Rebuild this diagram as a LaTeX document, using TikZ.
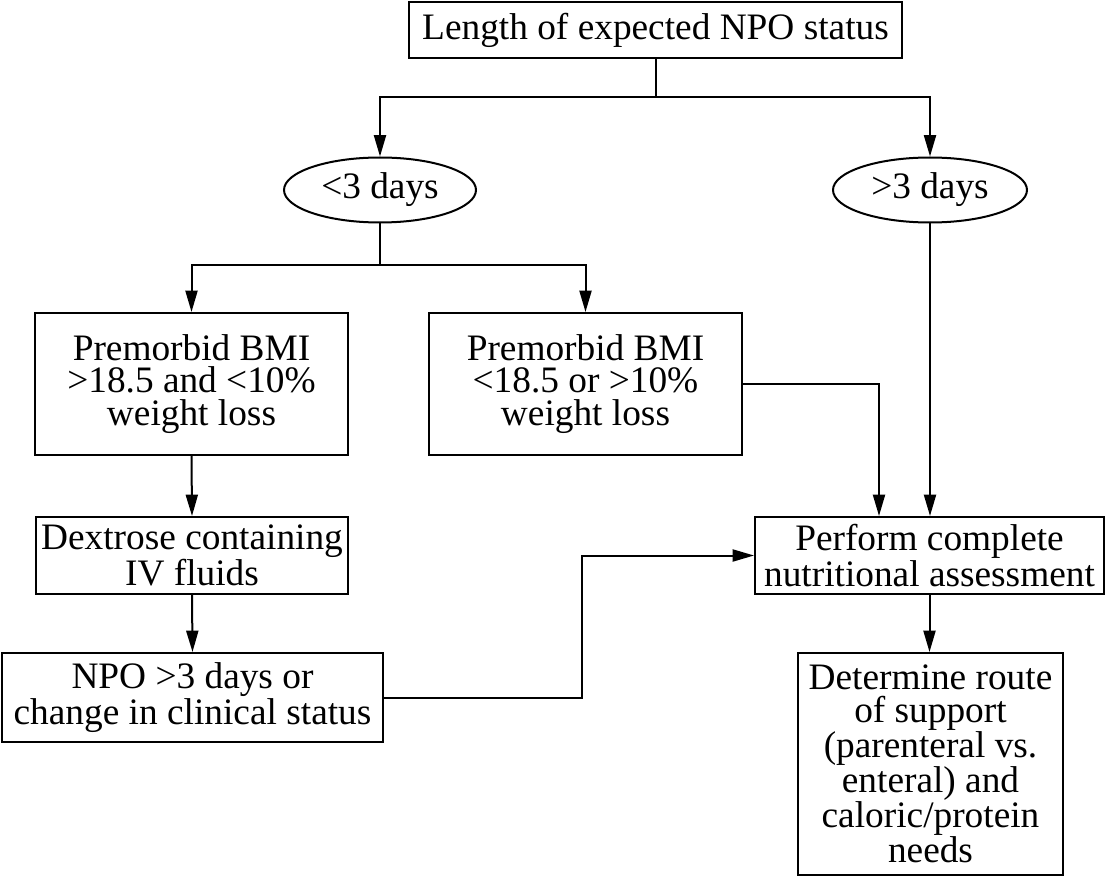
\documentclass[tikz,border=0pt]{standalone}
\usepackage{fontspec}
\setmainfont{Liberation Serif}
\usetikzlibrary{arrows.meta,shapes.geometric}
\begin{document}
\begin{tikzpicture}[x=0.75pt,y=-0.75pt,
  every node/.style={font=\fontsize{28}{24.5}\selectfont, align=center, inner sep=0pt, line width=1.5pt},
  box/.style={draw, rectangle},
  oval/.style={draw, ellipse},
  conn/.style={line width=1.5pt},
  arr/.style={conn, -{Triangle[length=16pt,width=9pt]}}]
\useasboundingbox (0,0) rectangle (1106,877);
\node[box, minimum width=369.75pt, minimum height=42pt] (top) at (655.5,30) {Length of expected NPO status};
\node[oval, minimum width=144pt, minimum height=48.75pt] (e1) at (380,190) {<3 days};
\node[oval, minimum width=145.5pt, minimum height=48.75pt] (e2) at (930,190) {>3 days};
\node[box, minimum width=234.75pt, minimum height=106.5pt] (b1) at (191.5,384) {Premorbid BMI\\>18.5 and <10\%\\weight loss};
\node[box, minimum width=234.75pt, minimum height=106.5pt] (b2) at (585.5,384) {Premorbid BMI\\<18.5 or >10\%\\weight loss};
\node[box, minimum width=234pt, minimum height=57.75pt] (dex) at (192,555.5) {Dextrose containing\\IV fluids};
\node[box, minimum width=285.75pt, minimum height=66.75pt] (npo) at (192.5,697.5) {NPO >3 days or\\change in clinical status};
\node[box, minimum width=261.75pt, minimum height=57.75pt] (pa) at (929.5,555.5) {Perform complete\\nutritional assessment};
\node[box, minimum width=198.75pt, minimum height=166.5pt] (det) at (930.5,764) {Determine route\\of support\\(parenteral vs.\\enteral) and\\caloric/protein\\needs};
\coordinate (j1) at (655.5,97);
\coordinate (j2) at (380,265);
\coordinate (c2) at (879,384);
\coordinate (c3) at (582,697.5);
\draw[conn] (top.south) -- (j1);
\draw[arr] (j1) -| (e1.north);
\draw[arr] (j1) -| (e2.north);
\draw[conn] (e1.south) -- (j2);
\draw[arr] (j2) -| (b1.north);
\draw[arr] (j2) -| (b2.north);
\draw[arr] (b2.east) -- (c2) -- (c2 |- pa.north);
\draw[arr] (e2.south) -- (e2.south |- pa.north);
\draw[arr] (b1.south) -- (dex.north);
\draw[arr] (dex.south) -- (npo.north);
\draw[arr] (npo.east) -- (c3) |- (pa.west);
\draw[arr] (pa.south) -- (pa.south |- det.north);
\end{tikzpicture}
\end{document}
